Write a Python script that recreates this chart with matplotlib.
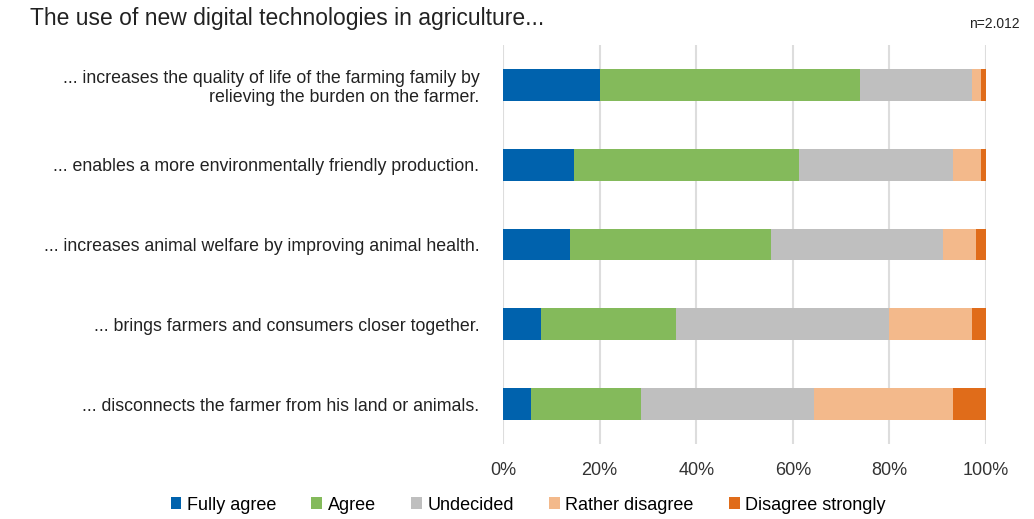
import matplotlib
matplotlib.use("Agg")
import matplotlib.pyplot as plt
import numpy as np

plt.rcParams['font.family'] = ['Liberation Sans', 'DejaVu Sans']

categories = [
    "... increases the quality of life of the farming family by\nrelieving the burden on the farmer.",
    "... enables a more environmentally friendly production.",
    "... increases animal welfare by improving animal health.",
    "... brings farmers and consumers closer together.",
    "... disconnects the farmer from his land or animals.",
]
series_names = ["Fully agree", "Agree", "Undecided", "Rather disagree", "Disagree strongly"]
fully_agree = [20.0, 14.8, 13.8, 7.9, 5.8]
agree = [54.0, 46.5, 41.7, 28.0, 22.8]
undecided = [23.0, 31.9, 35.7, 44.1, 35.7]
rather_disagree = [2.0, 5.8, 6.8, 17.0, 28.9]
disagree_strongly = [1.0, 1.0, 2.0, 3.0, 6.8]
x_ticks = [0, 20, 40, 60, 80, 100]
x_tick_labels = ["0%", "20%", "40%", "60%", "80%", "100%"]

colors = ["#0062AD", "#84BA5B", "#BFBFBF", "#F3B98B", "#E06C1A"]

fig = plt.figure(figsize=(10.34, 5.19), dpi=100)
ax = fig.add_axes([503/1034, 1 - 444/519, (986-503)/1034, (444-45)/519])

y = np.arange(len(categories))
left = np.zeros(len(categories))
for name, vals, c in zip(series_names,
                         [fully_agree, agree, undecided, rather_disagree, disagree_strongly],
                         colors):
    vals = np.array(vals)
    ax.barh(y, vals, left=left, height=0.4, color=c, label=name, zorder=3)
    left += vals

ax.set_ylim(len(categories) - 0.5, -0.5)
ax.set_xlim(0, 100)
ax.set_yticks(y)
ax.set_yticklabels(categories, fontsize=12.8, color="#222222", ha="right", linespacing=1.15)
ax.set_xticks(x_ticks)
ax.set_xticklabels(x_tick_labels, fontsize=13, color="#333333")
ax.tick_params(axis='both', length=0)
ax.tick_params(axis='y', pad=17)
ax.tick_params(axis='x', pad=13)
for s in ax.spines.values():
    s.set_visible(False)
ax.grid(axis='x', color="#DDDDDD", linewidth=1.5, zorder=0)

fig.text(30/1034, 1 - 18/519, "The use of new digital technologies in agriculture...",
         fontsize=16.5, color="#222222", va="center", ha="left")
fig.text(1020/1034, 1 - 24/519, "n=2.012", fontsize=10, color="#222222",
         va="center", ha="right")

fig.legend(loc="center", bbox_to_anchor=(528/1034, 1 - 505/519), ncol=5,
           frameon=False, fontsize=13, handlelength=0.6, handleheight=0.6,
           handletextpad=0.3, columnspacing=1.95)

fig.savefig("out.png", dpi=100)
